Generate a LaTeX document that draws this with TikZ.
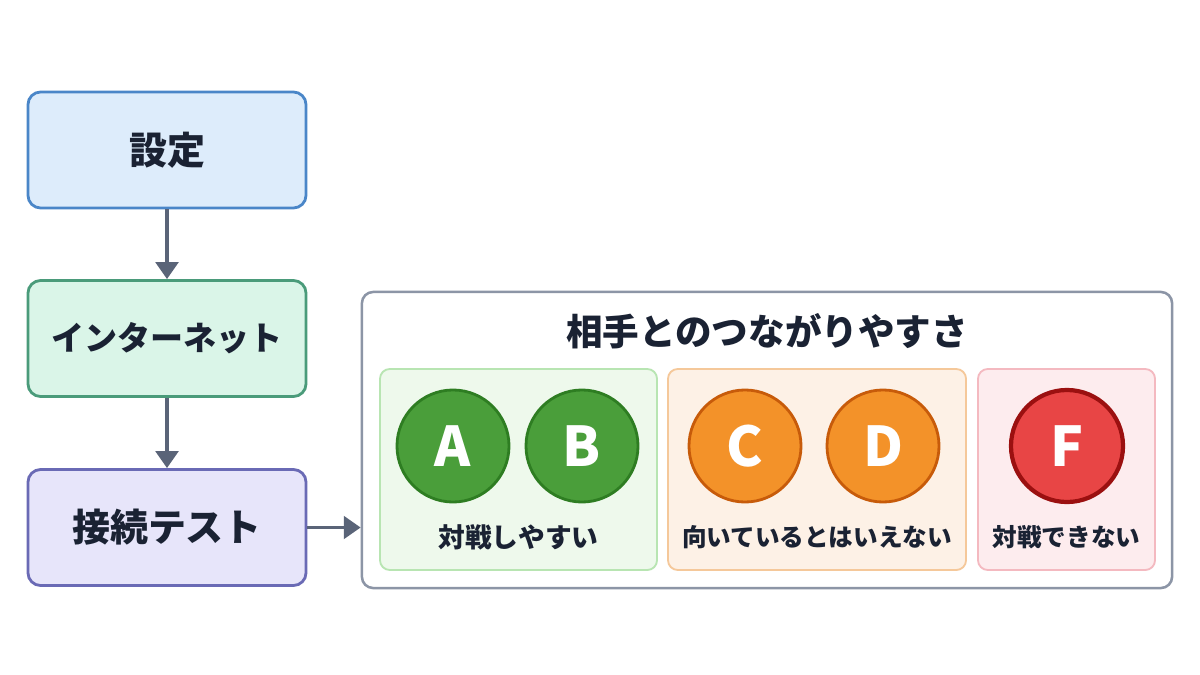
\documentclass[tikz,border=0pt]{standalone}
\usepackage{fontspec}
\setmainfont{Noto Sans CJK JP}
\usetikzlibrary{arrows.meta,positioning}
\definecolor{ink}{HTML}{1A2233}
\definecolor{arrowgray}{HTML}{5A6478}
\definecolor{frame}{HTML}{8C95A6}
\definecolor{setline}{HTML}{4A86C8}\definecolor{setfill}{HTML}{DDECFB}
\definecolor{netline}{HTML}{4A9B7A}\definecolor{netfill}{HTML}{DAF5E8}
\definecolor{testline}{HTML}{6A6AB5}\definecolor{testfill}{HTML}{E7E5FA}
\definecolor{goodline}{HTML}{B8E5B2}\definecolor{goodfill}{HTML}{EEF9EC}
\definecolor{midline}{HTML}{F5C89A}\definecolor{midfill}{HTML}{FDF1E6}
\definecolor{badline}{HTML}{F4B9C0}\definecolor{badfill}{HTML}{FDECEE}
\definecolor{goodc}{HTML}{4A9E3A}\definecolor{goodr}{HTML}{2E7D22}
\definecolor{midc}{HTML}{F39229}\definecolor{midr}{HTML}{C75B0A}
\definecolor{badc}{HTML}{E84545}\definecolor{badr}{HTML}{9B1010}
\begin{document}
\begin{tikzpicture}[x=0.025cm,y=-0.025cm,>={Triangle[length=12pt,width=16pt]},
  step box/.style={draw, line width=2pt, rounded corners=9pt, minimum width=6.95cm, minimum height=2.9cm, text=ink, font=\bfseries\fontsize{27}{30}\selectfont},
  group box/.style={draw, line width=1.3pt, rounded corners=7pt, minimum height=5.025cm},
  grade/.style={circle, draw, line width=2pt, minimum size=2.8cm, text=white, font=\bfseries\fontsize{39}{40}\selectfont},
  caption/.style={text=ink, font=\bfseries\fontsize{17.5}{20}\selectfont},
  link/.style={->, arrowgray, line width=2.6pt}]
\useasboundingbox (0,0) rectangle (1200,675);
\fill[white] (0,0) rectangle (1200,675);
\node[step box, draw=setline, fill=setfill] (setting) at (167,150) {設定};
\node[step box, draw=netline, fill=netfill, font=\bfseries\fontsize{23.5}{26}\selectfont] (net) at (167,338.5) {インターネット};
\node[step box, draw=testline, fill=testfill] (test) at (167,527.5) {接続テスト};
\node[draw=frame, line width=1.8pt, rounded corners=8pt, fill=white, minimum width=20.25cm, minimum height=7.4cm] (panel) at (767,440) {};
\node[text=ink, font=\bfseries\fontsize{26}{30}\selectfont] (title) at (767,331) {相手とのつながりやすさ};
\node[group box, draw=goodline, fill=goodfill, minimum width=6.925cm] (good) at (518.5,469.5) {};
\node[group box, draw=midline, fill=midfill, minimum width=7.45cm] (mid) at (817,469.5) {};
\node[group box, draw=badline, fill=badfill, minimum width=4.425cm] (bad) at (1066.5,469.5) {};
\node[grade, draw=goodr, fill=goodc] (a) at (453,446) {A};
\node[grade, draw=goodr, fill=goodc] (b) at (582,446) {B};
\node[grade, draw=midr, fill=midc] (c) at (745,446) {C};
\node[grade, draw=midr, fill=midc] (d) at (883,446) {D};
\node[grade, draw=badr, fill=badc, line width=3pt] (f) at (1067,446) {F};
\node[caption, font=\bfseries\fontsize{19}{22}\selectfont] (goodtxt) at (518.5,537) {対戦しやすい};
\node[caption] (midtxt) at (817,537) {向いているとはいえない};
\node[caption] (badtxt) at (1066.5,537) {対戦できない};
\draw[link] (setting) -- (net);
\draw[link] (net) -- (test);
\draw[link] (test) -- (panel.west |- test);
\end{tikzpicture}
\end{document}
